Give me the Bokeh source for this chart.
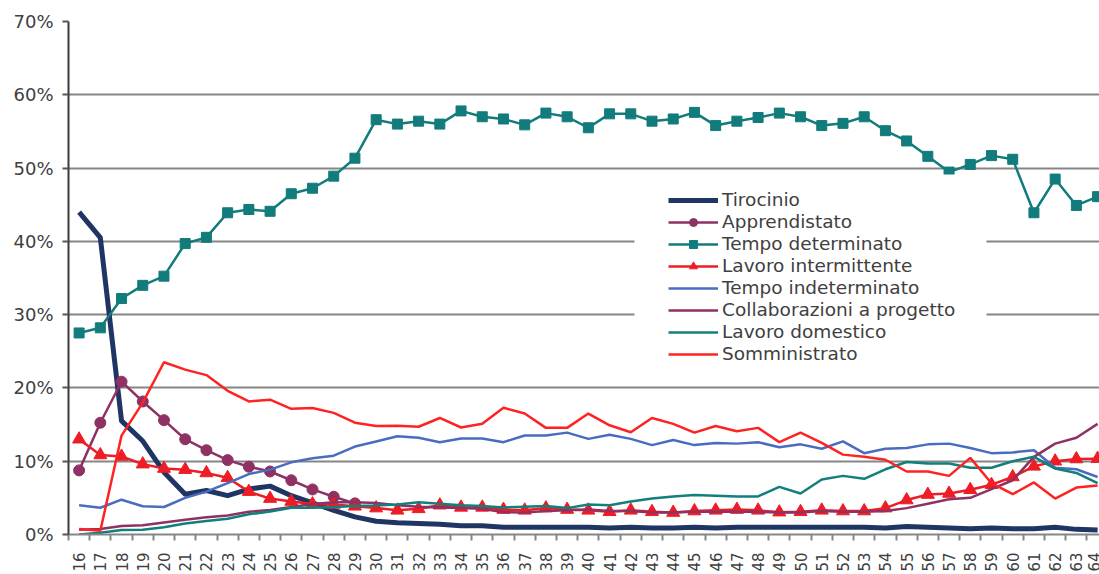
import numpy as np
from math import pi
from bokeh.plotting import figure
from bokeh.models import (Range1d, FixedTicker, PrintfTickFormatter, Legend,
                          LegendItem, BoxAnnotation, ColumnDataSource)
from bokeh.embed import file_html
from bokeh.resources import INLINE

ages = list(range(16, 65))

tirocinio = [44.0, 40.5, 15.5, 12.75, 8.5, 5.5, 6.0, 5.3, 6.2, 6.6, 5.3, 4.3, 3.3, 2.4,
             1.8, 1.6, 1.5, 1.4, 1.2, 1.2, 1.0, 1.0, 1.0, 1.0, 1.0, 0.9, 1.0, 0.9, 0.9, 1.0, 0.9,
             1.0, 1.0, 1.0, 1.0, 1.0, 1.0, 1.0, 0.9, 1.1, 1.0, 0.9, 0.8, 0.9, 0.8, 0.8, 1.0, 0.7, 0.6]

apprendistato = [8.75, 15.25, 20.85, 18.15, 15.6, 13.0, 11.5, 10.15, 9.25, 8.6, 7.4, 6.15, 5.15, 4.25] + [np.nan] * 35

tempo_determinato = [27.5, 28.2, 32.2, 34.0, 35.25, 39.7, 40.55, 43.9, 44.35, 44.1, 46.5, 47.25, 48.9, 51.35,
                     56.6, 56.0, 56.4, 56.0, 57.8, 57.0, 56.7, 55.9, 57.5, 57.0, 55.5, 57.4, 57.4, 56.4, 56.7, 57.6, 55.8,
                     56.4, 56.9, 57.5, 57.0, 55.8, 56.1, 57.0, 55.1, 53.7, 51.6, 49.45, 50.5, 51.7, 51.2, 43.9, 48.5, 44.9, 46.1]

lavoro_intermittente = [13.0, 10.85, 10.65, 9.6, 9.0, 8.85, 8.4, 7.75, 5.85, 4.9, 4.5, 4.15, 4.1, 3.85,
                        3.6, 3.3, 3.5, 4.0, 3.7, 3.7, 3.4, 3.3, 3.6, 3.4, 3.3, 3.1, 3.3, 3.1, 3.0, 3.2, 3.3,
                        3.4, 3.3, 3.05, 3.1, 3.3, 3.2, 3.2, 3.6, 4.7, 5.45, 5.6, 6.1, 6.8, 7.85, 9.3, 10.0, 10.3, 10.35]

tempo_indeterminato = [4.0, 3.65, 4.75, 3.85, 3.75, 5.0, 5.85, 7.0, 8.25, 8.85, 9.85, 10.4, 10.75, 12.0,
                       12.7, 13.4, 13.2, 12.6, 13.1, 13.1, 12.6, 13.5, 13.5, 13.9, 13.05, 13.6, 13.05, 12.2, 12.9, 12.2, 12.5,
                       12.4, 12.6, 11.9, 12.3, 11.7, 12.7, 11.1, 11.7, 11.8, 12.3, 12.4, 11.8, 11.1, 11.2, 11.5, 9.1, 8.9, 7.85]

collaborazioni = [0.65, 0.75, 1.15, 1.25, 1.65, 2.0, 2.35, 2.6, 3.1, 3.35, 3.75, 4.15, 4.4, 4.4,
                  4.3, 4.0, 3.8, 3.7, 3.6, 3.5, 3.05, 3.0, 3.2, 3.3, 3.4, 3.2, 3.2, 3.0, 3.0, 3.1, 3.1,
                  3.1, 3.1, 3.0, 3.0, 3.2, 3.1, 3.1, 3.2, 3.6, 4.2, 4.8, 5.0, 6.2, 7.4, 10.6, 12.4, 13.2, 15.1]

lavoro_domestico = [0.0, 0.25, 0.6, 0.65, 1.0, 1.5, 1.85, 2.15, 2.75, 3.15, 3.65, 3.65, 3.75, 3.9,
                    3.95, 4.1, 4.4, 4.2, 4.0, 3.9, 3.7, 3.8, 3.9, 3.6, 4.1, 4.0, 4.5, 4.9, 5.2, 5.4, 5.3,
                    5.2, 5.2, 6.5, 5.6, 7.5, 8.0, 7.6, 8.9, 9.9, 9.7, 9.7, 9.1, 9.1, 10.0, 10.6, 9.0, 8.4, 7.0]

somministrato = [0.75, 0.5, 13.5, 18.0, 23.5, 22.5, 21.75, 19.6, 18.15, 18.4, 17.15, 17.25, 16.6, 15.25,
                 14.8, 14.85, 14.7, 15.9, 14.6, 15.1, 17.3, 16.5, 14.55, 14.55, 16.5, 14.9, 13.95, 15.9, 15.1, 13.9, 14.8,
                 14.1, 14.55, 12.6, 13.9, 12.5, 10.9, 10.6, 10.2, 8.6, 8.6, 8.0, 10.45, 7.0, 5.5, 7.1, 4.9, 6.4, 6.7]

y_ticks = list(range(0, 71, 10))

FONT = "DejaVu Sans"
TXT = "#404040"
GRID = "#868686"

src = ColumnDataSource(dict(age=ages, tir=tirocinio, app=apprendistato, tdet=tempo_determinato,
                            lint=lavoro_intermittente, tind=tempo_indeterminato, col=collaborazioni,
                            dom=lavoro_domestico, som=somministrato))

p = figure(width=1099, height=574, output_backend="svg", toolbar_location=None,
           x_range=Range1d(15.5, 64.09), y_range=Range1d(0, 70),
           min_border_left=68, min_border_top=21, min_border_right=0, min_border_bottom=39)
p.outline_line_color = None
p.background_fill_color = "white"
p.border_fill_color = "white"

p.xgrid.visible = False
p.ygrid.ticker = FixedTicker(ticks=y_ticks)
p.ygrid.grid_line_color = GRID
p.ygrid.grid_line_width = 2

yax = p.yaxis[0]
yax.ticker = FixedTicker(ticks=y_ticks)
yax.formatter = PrintfTickFormatter(format="%d%%")
yax.axis_line_color = "#3a3a3a"
yax.axis_line_width = 2
yax.major_tick_out = 6
yax.major_tick_in = 0
yax.major_tick_line_color = "#555555"
yax.major_tick_line_width = 2
yax.minor_tick_line_color = None
yax.major_label_text_font = FONT
yax.major_label_text_font_size = "18px"
yax.major_label_text_color = TXT
yax.major_label_standoff = 9

xax = p.xaxis[0]
xax.ticker = FixedTicker(ticks=ages, minor_ticks=[a - 0.5 for a in ages] + [ages[-1] + 0.5])
xax.axis_line_color = GRID
xax.axis_line_width = 2
xax.major_tick_out = 0
xax.major_tick_in = 0
xax.minor_tick_out = 6
xax.minor_tick_in = 0
xax.minor_tick_line_color = GRID
xax.minor_tick_line_width = 2
xax.major_label_orientation = pi / 2
xax.major_label_text_font = FONT
xax.major_label_text_font_size = "15px"
xax.major_label_text_color = TXT
xax.major_label_standoff = 12

items = []
r = p.line("age", "tir", source=src, line_color="#1F3564", line_width=5, line_join="round")
items.append(LegendItem(label="Tirocinio", renderers=[r]))

r1 = p.line("age", "app", source=src, line_color="#8E3163", line_width=2.5)
r2 = p.scatter("age", "app", source=src, marker="circle", size=11, fill_color="#8E3163", line_color="#8E3163")
items.append(LegendItem(label="Apprendistato", renderers=[r1, r2]))

r1 = p.line("age", "tdet", source=src, line_color="#127B7B", line_width=2.5)
r2 = p.scatter("age", "tdet", source=src, marker="square", size=10, fill_color="#127B7B", line_color="#127B7B")
items.append(LegendItem(label="Tempo determinato", renderers=[r1, r2]))

r1 = p.line("age", "lint", source=src, line_color="#EE1C25", line_width=2.5)
r2 = p.scatter("age", "lint", source=src, marker="triangle", size=13, fill_color="#EE1C25", line_color="#EE1C25")
items.append(LegendItem(label="Lavoro intermittente", renderers=[r1, r2]))

r = p.line("age", "tind", source=src, line_color="#4A6CC0", line_width=2.5)
items.append(LegendItem(label="Tempo indeterminato", renderers=[r]))

r = p.line("age", "col", source=src, line_color="#8E3163", line_width=2.5)
items.append(LegendItem(label="Collaborazioni a progetto", renderers=[r]))

r = p.line("age", "dom", source=src, line_color="#11807C", line_width=2.5)
items.append(LegendItem(label="Lavoro domestico", renderers=[r]))

r = p.line("age", "som", source=src, line_color="#FF2222", line_width=2.5)
items.append(LegendItem(label="Somministrato", renderers=[r]))

# white panel behind the legend (screen units: x from frame left, y from frame bottom)
box = BoxAnnotation(left=566, right=918, top=360, bottom=155,
                    left_units="screen", right_units="screen", top_units="screen", bottom_units="screen",
                    fill_color="white", fill_alpha=1, line_alpha=0)
p.add_layout(box)

legend = Legend(items=items, location=(600, 170), padding=0, margin=0, spacing=1,
                glyph_width=50, glyph_height=20, label_height=20, label_standoff=4,
                label_text_font=FONT, label_text_font_size="18.5px", label_text_color=TXT,
                background_fill_alpha=0, border_line_alpha=0)
p.add_layout(legend)

open("out.html", "w").write(file_html(p, INLINE))
